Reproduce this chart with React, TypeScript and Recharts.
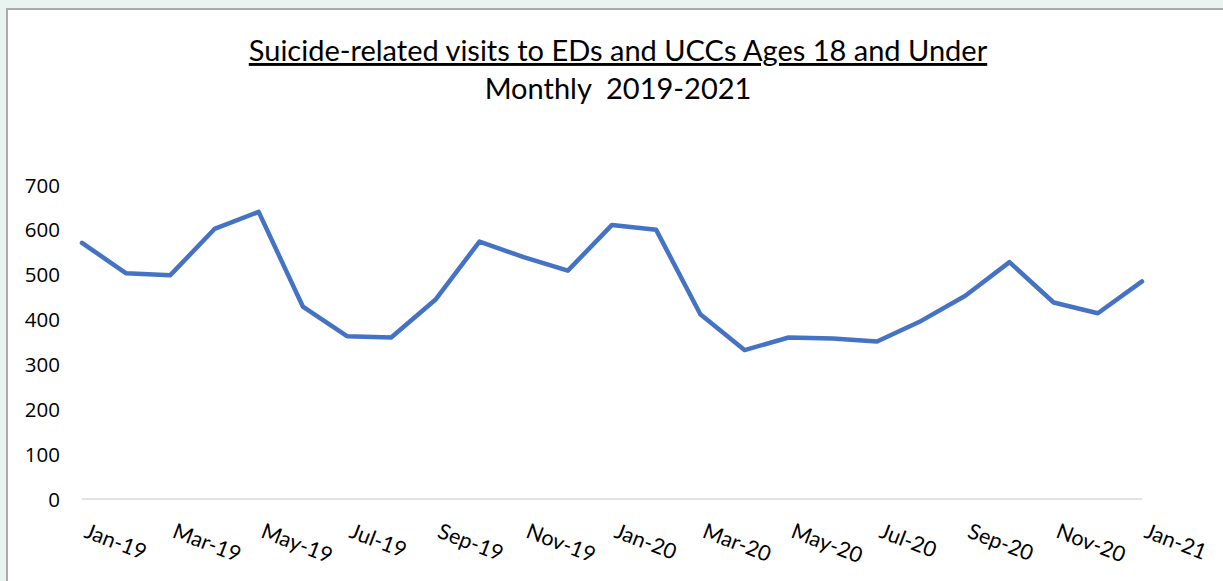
import React from 'react';
import { LineChart, Line, XAxis, YAxis } from 'recharts';

const months = [
  'Jan-19', 'Feb-19', 'Mar-19', 'Apr-19', 'May-19', 'Jun-19', 'Jul-19', 'Aug-19', 'Sep-19', 'Oct-19', 'Nov-19', 'Dec-19',
  'Jan-20', 'Feb-20', 'Mar-20', 'Apr-20', 'May-20', 'Jun-20', 'Jul-20', 'Aug-20', 'Sep-20', 'Oct-20', 'Nov-20', 'Dec-20',
  'Jan-21',
];
const visits = [
  571, 503, 499, 602, 640, 429, 363, 360, 444, 574, 539, 509,
  611, 600, 412, 332, 360, 358, 351, 397, 453, 528, 438, 414,
  485,
];
const yTicks = [0, 100, 200, 300, 400, 500, 600, 700];
const titleLine1 = 'Suicide-related visits to EDs and UCCs Ages 18 and Under';
const titleLine2 = 'Monthly  2019-2021';

const data = months.map((m, i) => ({ month: m, visits: visits[i] }));

const FONT = 'Lato, "Liberation Sans", sans-serif';
const NUM_FONT = '"Open Sans", "Liberation Sans", sans-serif';

const XTick = (props: any) => {
  const { x, y, payload } = props;
  const tx = x + 1;
  const ty = y + 30;
  return (
    <text
      x={tx}
      y={ty}
      transform={`rotate(21, ${tx}, ${ty})`}
      textAnchor="start"
      fontFamily={FONT}
      fontSize={21.5}
      fill="#000"
    >
      {payload.value}
    </text>
  );
};

const YTick = (props: any) => {
  const { y, payload } = props;
  return (
    <text x={60} y={y} dy={7.5} textAnchor="end" fontFamily={NUM_FONT} fontSize={20.5} fill="#000">
      {payload.value}
    </text>
  );
};

export default function App() {
  return (
    <div style={{ position: 'absolute', left: 0, top: 0, width: 1223, height: 581, background: '#e9f3ef', overflow: 'hidden' }}>
      <div
        style={{
          position: 'absolute',
          left: 6,
          top: 8,
          width: 1230,
          height: 590,
          background: '#fff',
          borderLeft: '2px solid #ababab',
          borderTop: '2px solid #ababab',
        }}
      />
      <svg style={{ position: 'absolute', left: 0, top: 0 }} width={1223} height={120}>
        <text x={618} y={61} textAnchor="middle" fontFamily={FONT} fontSize={29} fill="#000" textDecoration="underline">
          {titleLine1}
        </text>
        <text x={618} y={99} textAnchor="middle" fontFamily={FONT} fontSize={29} fill="#000" style={{ whiteSpace: 'pre' }}>
          {titleLine2}
        </text>
      </svg>
      <div style={{ position: 'absolute', left: 0, top: 0 }}>
        <LineChart width={1223} height={581} data={data} margin={{ top: 185, right: 81, bottom: 0, left: 0 }}>
          <XAxis
            dataKey="month"
            interval={1}
            tickLine={false}
            axisLine={{ stroke: '#d9d9d9', strokeWidth: 1.5 }}
            tick={<XTick />}
            height={82}
          />
          <YAxis
            domain={[0, 700]}
            ticks={yTicks}
            width={82}
            axisLine={false}
            tickLine={false}
            tick={<YTick />}
          />
          <Line
            type="linear"
            dataKey="visits"
            stroke="#4472c4"
            strokeWidth={4.5}
            dot={false}
            isAnimationActive={false}
            strokeLinejoin="round"
            strokeLinecap="round"
          />
        </LineChart>
      </div>
    </div>
  );
}
